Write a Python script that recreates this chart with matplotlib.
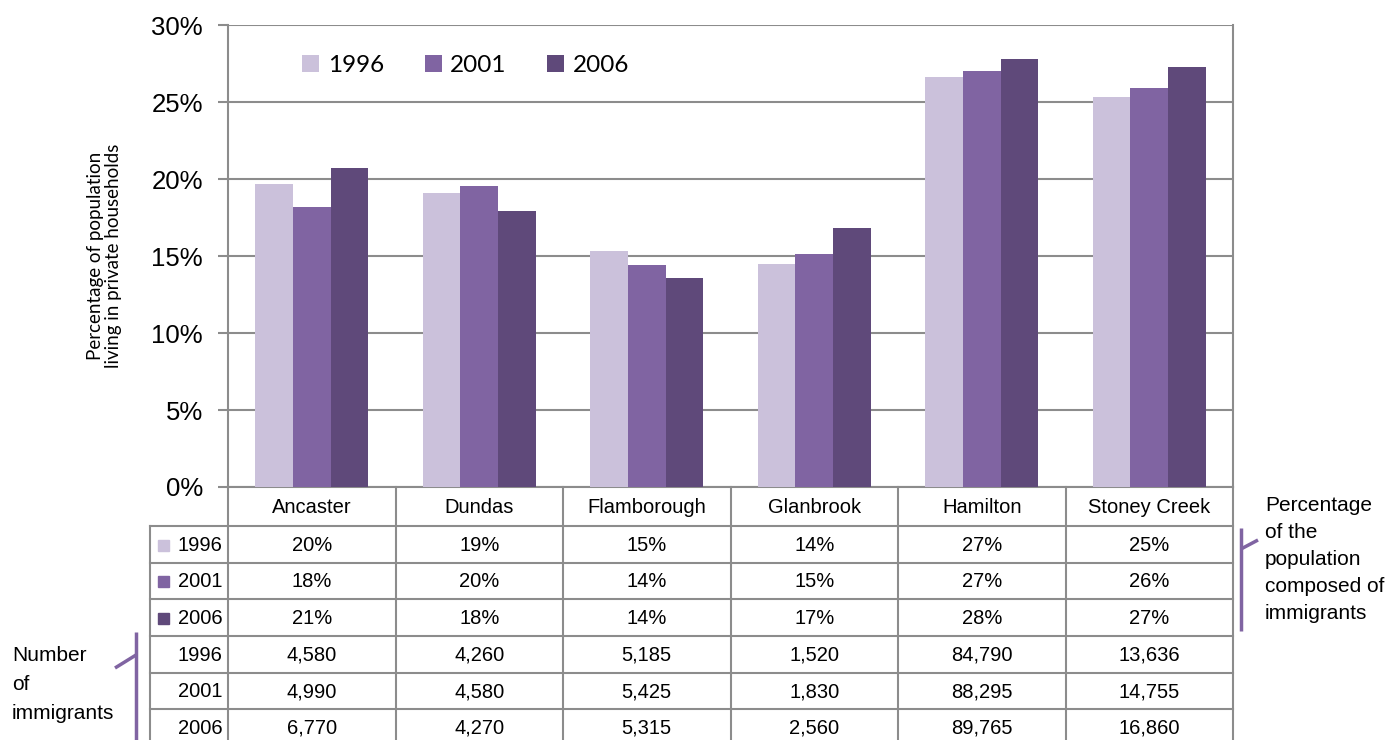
import matplotlib.pyplot as plt
from matplotlib.patches import Rectangle

# data
places = ["Ancaster", "Dundas", "Flamborough", "Glanbrook", "Hamilton", "Stoney Creek"]
years = ["1996", "2001", "2006"]
pct_1996 = [19.7, 19.1, 15.3, 14.5, 26.6, 25.3]
pct_2001 = [18.2, 19.55, 14.4, 15.1, 27.0, 25.9]
pct_2006 = [20.7, 17.9, 13.6, 16.8, 27.8, 27.3]
count_1996 = [4580, 4260, 5185, 1520, 84790, 13636]
count_2001 = [4990, 4580, 5425, 1830, 88295, 14755]
count_2006 = [6770, 4270, 5315, 2560, 89765, 16860]

colors = ["#cbc1db", "#8064a2", "#5f497a"]
grid_col = "#8c8c8c"
arial = "Liberation Sans"
calibri = "Lato"

W, H = 1390, 740
fig = plt.figure(figsize=(W / 100, H / 100), dpi=100)

# main bar axes
ax = fig.add_axes([228 / W, 1 - 487 / H, 1005 / W, 462 / H])
pcts = [pct_1996, pct_2001, pct_2006]
bw = 0.224
for k, (yr, vals) in enumerate(zip(years, pcts)):
    xs = [i + (k - 1) * bw for i in range(len(places))]
    ax.bar(xs, vals, width=bw, color=colors[k], label=yr, zorder=3)

ax.set_xlim(-0.5, len(places) - 0.5)
ax.set_ylim(0, 30)
ax.set_yticks(range(0, 31, 5))
ax.set_yticklabels([f"{v}%" for v in range(0, 31, 5)], fontsize=18.5, family=arial)
ax.set_xticks([])
ax.yaxis.grid(True, color=grid_col, lw=1.5, zorder=0)
for s in ax.spines.values():
    s.set_color(grid_col)
    s.set_linewidth(1.5)
ax.spines["top"].set_visible(False)
ax.tick_params(axis="y", length=7, width=1.5, color=grid_col, pad=11)
ax.set_ylabel("Percentage of population\nliving in private households",
              fontsize=13.5, family=calibri, linespacing=1.1)
ax.yaxis.set_label_coords(-0.105, 0.5)

leg = ax.legend(loc="center left", bbox_to_anchor=(0.052, 0.913), ncol=3,
                frameon=False, prop={"family": calibri, "size": 17.5},
                handlelength=0.7, handleheight=0.7, handletextpad=0.35,
                columnspacing=1.68)

# data table under the plot, y in image pixels
tab = fig.add_axes([150 / W, 0, 1083 / W, (H - 487) / H])
xl = -0.5 - 78 / 167.5
tab.set_xlim(xl, len(places) - 0.5)
tab.set_ylim(H, 487)
tab.axis("off")

edges = [487, 526, 563, 599, 636, 673, 709, 746]
lkw = dict(color=grid_col, lw=1.5, clip_on=False)
for i in range(len(places) + 1):
    tab.plot([i - 0.5, i - 0.5], [487, edges[-1]], **lkw)
tab.plot([xl, xl], [edges[1], edges[-1]], **lkw)
for e in edges[1:]:
    tab.plot([xl, len(places) - 0.5], [e, e], **lkw)

tkw = dict(family=arial, fontsize=14.5, va="center", clip_on=False)
for i, p in enumerate(places):
    tab.text(i, (edges[0] + edges[1]) / 2 + 1, p, ha="center", **tkw)

rows = []
for k, yr in enumerate(years):
    rows.append((yr, [f"{v:.0f}%" for v in pcts[k]], colors[k]))
for yr, cnts in zip(years, [count_1996, count_2001, count_2006]):
    rows.append((yr, [f"{v:,}" for v in cnts], None))

for r, (yr, cells, col) in enumerate(rows):
    yc = (edges[r + 1] + edges[r + 2]) / 2 + 1
    tab.text(-0.535, yc, yr, ha="right", **tkw)
    if col is not None:
        tab.add_patch(Rectangle((xl + 0.048, yc - 5.5), 0.066, 11, color=col, clip_on=False))
    for i, c in enumerate(cells):
        tab.text(i, yc, c, ha="center", **tkw)

# side notes with purple brackets, in image pixels
over = fig.add_axes([0, 0, 1, 1], zorder=-1)
over.set_xlim(0, W)
over.set_ylim(H, 0)
over.axis("off")
bkw = dict(color="#8064a2", lw=2.5, solid_capstyle="butt")
over.plot([1241, 1241], [528, 631], **bkw)
over.plot([1241, 1258], [549, 540], **bkw)
over.text(1265, 496, "Percentage\nof the\npopulation\ncomposed of\nimmigrants",
          family=arial, fontsize=15, va="top", ha="left", linespacing=1.54)
over.plot([136, 136], [632, 745], **bkw)
over.plot([136, 115], [655, 668], **bkw)
over.text(12, 646, "Number\nof\nimmigrants",
          family=arial, fontsize=15, va="top", ha="left", linespacing=1.66)

fig.savefig("out.png", dpi=100)
